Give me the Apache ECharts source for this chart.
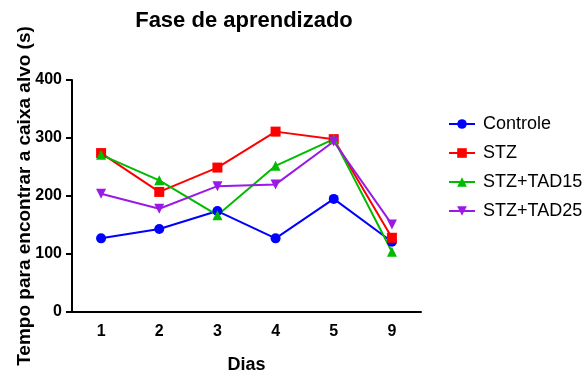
<!DOCTYPE html>
<html><head><meta charset="utf-8">
<script src="https://cdn.jsdelivr.net/npm/echarts@6/dist/echarts.min.js"></script>
<style>html,body{margin:0;padding:0;background:#fff}#c{width:587px;height:372px}</style>
</head><body><div id="c"></div>
<script>
const days = ['1','2','3','4','5','9'];
const controle = [127, 143, 174, 127, 195, 121];
const stz = [274, 207, 249, 311, 298, 128];
const stzTad15 = [271, 227, 167, 252, 298, 104];
const stzTad25 = [204, 178, 217, 220, 294, 151];
const yTicks = [0, 100, 200, 300, 400];

const names = ['Controle', 'STZ', 'STZ+TAD15', 'STZ+TAD25'];
const colors = ['#0000FF', '#FF0000', '#00BB00', '#9B19E6'];
const symbols = ['circle', 'rect', 'triangle', 'triangle'];
const rotations = [0, 0, 0, 180];
const sizes = [10, 10, 10, 10];
const allData = [controle, stz, stzTad15, stzTad25];

const chart = echarts.init(document.getElementById('c'), null, {renderer: 'canvas'});
const font = 'Liberation Sans, Arial, sans-serif';
chart.setOption({
  animation: false,
  textStyle: {fontFamily: font},
  title: {
    text: 'Fase de aprendizado', left: 239, top: 5, textAlign: 'center',
    textStyle: {fontSize: 22, fontWeight: 'bold', color: '#000', fontFamily: font}
  },
  legend: {
    orient: 'vertical', left: 443, top: 110, itemWidth: 26, itemHeight: 12, itemGap: 11,
    textStyle: {fontSize: 18, color: '#000', fontFamily: font, padding: [0, 0, 0, 3]},
    data: names
  },
  grid: {left: 72, right: 166, top: 80, bottom: 60, containLabel: false, outerBoundsMode: 'none'},
  xAxis: {
    type: 'category', data: days, boundaryGap: true,
    name: 'Dias', nameLocation: 'middle', nameGap: 44, nameMoveOverlap: false,
    nameTextStyle: {fontSize: 18, fontWeight: 'bold', color: '#000'},
    axisLine: {lineStyle: {color: '#000', width: 2}},
    axisTick: {alignWithLabel: true, length: 5, lineStyle: {width: 2}},
    axisLabel: {fontSize: 16, fontWeight: 'bold', color: '#000', margin: 12}
  },
  yAxis: {
    type: 'value', min: yTicks[0], max: yTicks[yTicks.length - 1], interval: 100,
    name: 'Tempo para encontrar a caixa alvo (s)', nameLocation: 'middle', nameGap: 38,
    nameMoveOverlap: false,
    nameTextStyle: {fontSize: 19, fontWeight: 'bold', color: '#000'},
    axisLine: {show: true, lineStyle: {color: '#000', width: 2}},
    axisTick: {show: true, length: 6, lineStyle: {width: 2}},
    axisLabel: {fontSize: 16, fontWeight: 'bold', color: '#000', margin: 10},
    splitLine: {show: false}
  },
  series: names.map((n, i) => ({
    name: n, type: 'line', data: allData[i],
    symbol: symbols[i], symbolSize: sizes[i], symbolRotate: rotations[i],
    color: colors[i],
    lineStyle: {width: 2, color: colors[i]},
    itemStyle: {color: colors[i]}
  }))
});
</script></body></html>
